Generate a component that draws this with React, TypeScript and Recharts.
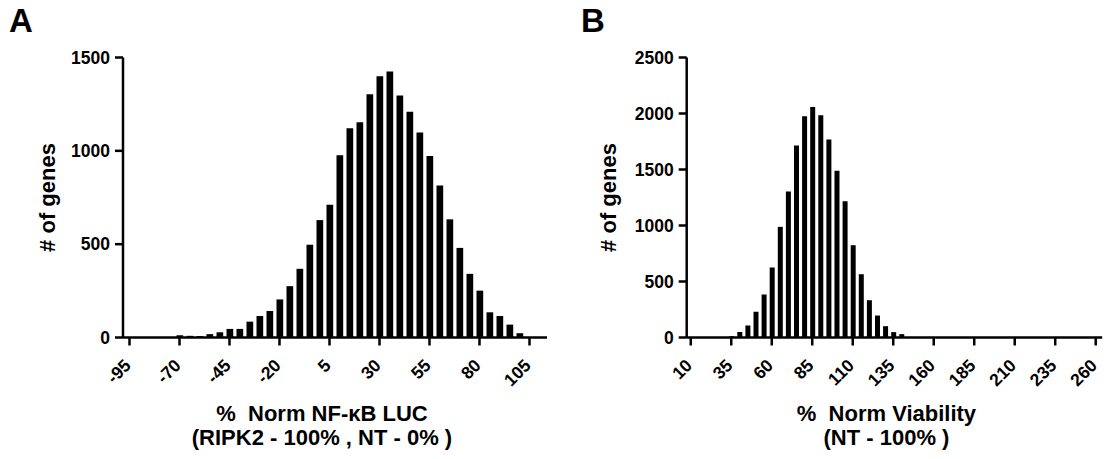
import React from "react";
import { BarChart, Bar, XAxis, YAxis, Label } from "recharts";

// Panel A: % Norm NF-kB LUC histogram (bin centres, step 5)
const binsA = [-95, -90, -85, -80, -75, -70, -65, -60, -55, -50, -45, -40, -35, -30, -25, -20, -15, -10, -5, 0, 5, 10, 15, 20, 25, 30, 35, 40, 45, 50, 55, 60, 65, 70, 75, 80, 85, 90, 95, 100, 105];
const countsA = [0, 0, 0, 0, 0, 12, 9, 8, 18, 28, 46, 46, 85, 115, 142, 204, 275, 368, 497, 629, 711, 977, 1121, 1153, 1303, 1399, 1425, 1297, 1210, 1098, 972, 814, 633, 480, 341, 251, 135, 115, 69, 23, 0];
const xTicksA = [-95, -70, -45, -20, 5, 30, 55, 80, 105];
const yTicksA = [0, 500, 1000, 1500];

// Panel B: % Norm Viability histogram
const binsB = [10, 15, 20, 25, 30, 35, 40, 45, 50, 55, 60, 65, 70, 75, 80, 85, 90, 95, 100, 105, 110, 115, 120, 125, 130, 135, 140, 145, 150, 155, 160, 165, 170, 175, 180, 185, 190, 195, 200, 205, 210, 215, 220, 225, 230, 235, 240, 245, 250, 255, 260];
const countsB = [0, 0, 0, 0, 0, 12, 48, 107, 229, 384, 625, 988, 1303, 1714, 1976, 2059, 1985, 1768, 1488, 1217, 824, 565, 333, 196, 101, 48, 30, 0, 0, 0, 0, 0, 0, 0, 0, 0, 0, 0, 0, 0, 0, 0, 0, 0, 0, 0, 0, 0, 0, 0, 0];
const xTicksB = [10, 35, 60, 85, 110, 135, 160, 185, 210, 235, 260];
const yTicksB = [0, 500, 1000, 1500, 2000, 2500];

const dataA = binsA.map((x, i) => ({ x, n: countsA[i] }));
const dataB = binsB.map((x, i) => ({ x, n: countsB[i] }));

const FONT = "'Liberation Sans', Arial, sans-serif";
const TICK_FS = 17.5;
const TITLE_FS = 22;

const RotTick = (props: any) => {
  const { x, y, payload } = props;
  return (
    <g transform={`translate(${x + 2.5},${y + 19})`}>
      <text
        x={0}
        y={0}
        transform="rotate(-45)"
        textAnchor="end"
        fontSize={TICK_FS}
        fontWeight="bold"
        fontFamily={FONT}
        fill="#000"
      >
        {payload.value}
      </text>
    </g>
  );
};

const yTickStyle = { fontSize: TICK_FS, fontWeight: "bold", fontFamily: FONT, fill: "#000" } as any;

const makeXTitle = (l1: string, l2: string, dxShift: number) => (props: any) => {
  const vb = props.viewBox || {};
  const cx = vb.x + vb.width / 2 + dxShift;
  return (
    <text textAnchor="middle" fontSize={TITLE_FS} fontWeight="bold" fontFamily={FONT} fill="#000">
      <tspan x={cx} y={420.5}>{l1}</tspan>
      <tspan x={cx} y={445}>{l2}</tspan>
    </text>
  );
};

const makeYTitle = (t: string, dxShift: number) => (props: any) => {
  const vb = props.viewBox || {};
  const cx = vb.x + dxShift;
  const cy = vb.y + vb.height / 2;
  return (
    <text
      x={cx}
      y={cy}
      transform={`rotate(-90, ${cx}, ${cy})`}
      textAnchor="middle"
      dominantBaseline="central"
      fontSize={TITLE_FS}
      fontWeight="bold"
      fontFamily={FONT}
      fill="#000"
    >
      {t}
    </text>
  );
};

const axisLine = { stroke: "#000", strokeWidth: 2.5 };
const tickLine = { stroke: "#000", strokeWidth: 2.5 };

export default function App() {
  return (
    <div style={{ position: "absolute", left: 0, top: 0, width: 1105, height: 459, background: "#fff", fontFamily: FONT }}>
      <div style={{ position: "absolute", left: 9, top: 1, fontSize: 33, fontWeight: "bold", fontFamily: FONT, lineHeight: "40px" }}>A</div>
      <div style={{ position: "absolute", left: 581, top: 1, fontSize: 33, fontWeight: "bold", fontFamily: FONT, lineHeight: "40px" }}>B</div>

      <div style={{ position: "absolute", left: 0, top: 0 }}>
        <BarChart width={560} height={459} data={dataA} margin={{ top: 57.5, right: 13, bottom: 81.5, left: 63 }} barCategoryGap={0}>
          <XAxis
            dataKey="x"
            type="number"
            domain={[-98.25, 113.75]}
            ticks={xTicksA}
            interval={0}
            height={40}
            axisLine={axisLine}
            tickLine={tickLine}
            tickSize={8}
            tickMargin={2}
            tick={<RotTick />}
            allowDataOverflow
          >
            <Label content={makeXTitle("%\u00a0 Norm NF-\u03baB LUC", "(RIPK2 - 100% , NT - 0% )", -13)} />
          </XAxis>
          <YAxis
            type="number"
            domain={[0, 1500]}
            ticks={yTicksA}
            interval={0}
            width={60}
            axisLine={axisLine}
            tickLine={tickLine}
            tickSize={8}
            tickMargin={5}
            tick={yTickStyle}
          >
            <Label content={makeYTitle("# of genes", -16)} />
          </YAxis>
          <Bar dataKey="n" fill="#000" barSize={6.7} isAnimationActive={false} />
        </BarChart>
      </div>

      <div style={{ position: "absolute", left: 560, top: 0 }}>
        <BarChart width={545} height={459} data={dataB} margin={{ top: 57.5, right: 2.8, bottom: 81.5, left: 66.7 }} barCategoryGap={0}>
          <XAxis
            dataKey="x"
            type="number"
            domain={[7.5, 264]}
            ticks={xTicksB}
            interval={0}
            height={40}
            axisLine={axisLine}
            tickLine={tickLine}
            tickSize={8}
            tickMargin={2}
            tick={<RotTick />}
            allowDataOverflow
          >
            <Label content={makeXTitle("%\u00a0 Norm Viability", "(NT - 100% )", -8)} />
          </XAxis>
          <YAxis
            type="number"
            domain={[0, 2500]}
            ticks={yTicksB}
            interval={0}
            width={60}
            axisLine={axisLine}
            tickLine={tickLine}
            tickSize={8}
            tickMargin={5}
            tick={yTickStyle}
          >
            <Label content={makeYTitle("# of genes", -18.7)} />
          </YAxis>
          <Bar dataKey="n" fill="#000" barSize={5} isAnimationActive={false} />
        </BarChart>
      </div>
    </div>
  );
}
